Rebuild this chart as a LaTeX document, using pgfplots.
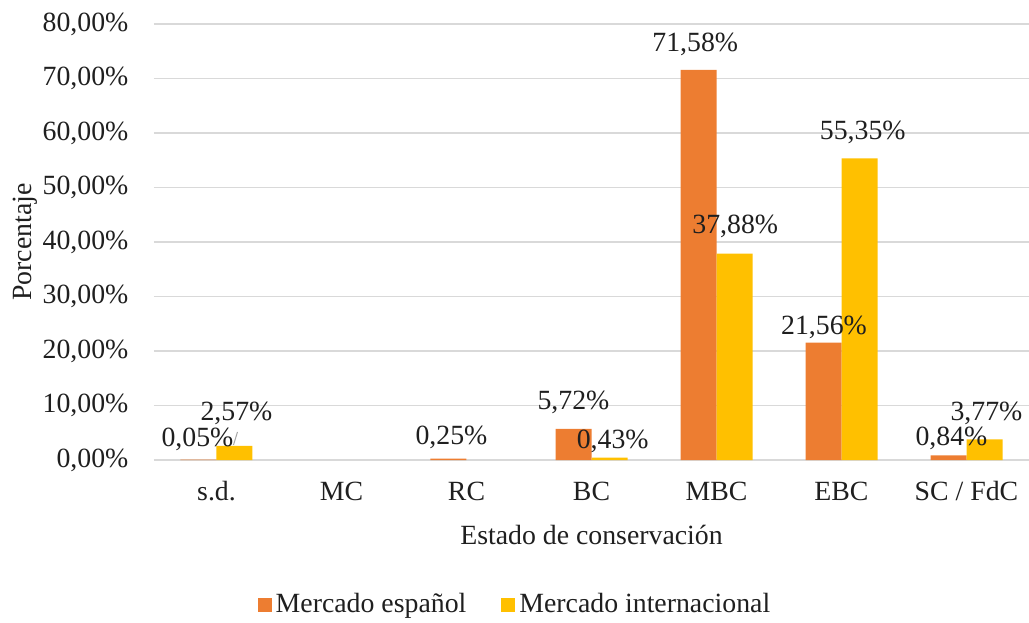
\documentclass[border=0pt]{standalone}
\usepackage{pgfplots}
\pgfplotsset{compat=1.18}
\usepackage{fontspec}
\setmainfont{Liberation Serif}

\definecolor{espanol}{HTML}{ED7D31}
\definecolor{internacional}{HTML}{FFC000}
\definecolor{gridgray}{HTML}{D9D9D9}
\definecolor{txt}{HTML}{1F1F1F}

\begin{document}
\fontsize{13.9}{16.7}\selectfont
\begin{tikzpicture}
\useasboundingbox (-77pt,-81pt) rectangle (437.5pt,230pt);
\begin{axis}[
    scale only axis,
    width=437.5pt, height=218pt,
    ybar=0pt,
    bar width=0.288,
    xmin=-0.5, xmax=6.5,
    ymin=0, ymax=80,
    xtick={0,1,2,3,4,5,6},
    xticklabels={s.d., MC, RC, BC, MBC, EBC, SC / FdC},
    ytick={0,10,20,30,40,50,60,70,80},
    yticklabels={{0,00\%},{10,00\%},{20,00\%},{30,00\%},{40,00\%},{50,00\%},{60,00\%},{70,00\%},{80,00\%}},
    major tick length=0pt,
    axis line style={draw=none},
    ymajorgrids,
    grid style={gridgray, line width=0.9pt},
    every tick label/.append style={text=txt},
    yticklabel style={xshift=-8pt},
    xticklabel style={yshift=-6pt},
    xlabel={Estado de conservación},
    ylabel={Porcentaje},
    xlabel style={at={(axis description cs:0.5,0)}, anchor=center, yshift=-37.5pt, text=txt},
    ylabel style={at={(axis description cs:-0.147,0.5)}, anchor=center, text=txt},
    legend columns=2,
    legend style={draw=none, fill=none, at={(axis description cs:0.4137,-0.3326)}, anchor=center,
        /tikz/every even column/.append style={column sep=15.5pt},
        nodes={inner xsep=2pt}, text=txt},
    legend image code/.code={\fill[#1] (0pt,-3.5pt) rectangle (7pt,3.5pt);},
]
% Mercado espanol
\addplot[fill=espanol, draw=none, bar shift=-0.144] coordinates {
    (0,0.05) (2,0.25) (3,5.72) (4,71.58) (5,21.56) (6,0.84)};
% Mercado internacional
\addplot[fill=internacional, draw=none, bar shift=0.144] coordinates {
    (0,2.57) (3,0.43) (4,37.88) (5,55.35) (6,3.77)};
\legend{Mercado español, Mercado internacional}

% data labels, placed where the original puts them
\addplot[draw=none, fill=none, bar shift=0pt, forget plot,
    nodes near coords, point meta=explicit symbolic,
    nodes near coords style={anchor=center, text=txt, inner sep=0pt}] coordinates {
    (-0.152,3.86) [0,05\%]
    (0.16,8.64) [2,57\%]
    (1.88,4.2) [0,25\%]
    (2.856,10.5) [5,72\%]
    (3.17,3.5) [0,43\%]
    (3.83,76.3) [71,58\%]
    (4.15,42.8) [37,88\%]
    (4.86,24.3) [21,56\%]
    (5.17,60.1) [55,35\%]
    (5.88,4.0) [0,84\%]
    (6.16,8.6) [3,77\%]
};
\draw[gray!70, line width=0.5pt] (axis cs:0.136,2.76) -- (axis cs:0.168,5.15);
\end{axis}
\end{tikzpicture}
\end{document}
